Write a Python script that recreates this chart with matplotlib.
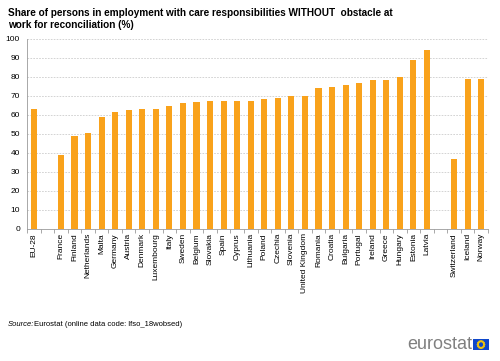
import numpy as np
import matplotlib.pyplot as plt
from matplotlib.patches import Rectangle, Circle

plt.rcParams['font.family'] = ['Liberation Sans', 'DejaVu Sans']

countries = ['EU-28', '',
             'France', 'Finland', 'Netherlands', 'Malta', 'Germany', 'Austria',
             'Denmark', 'Luxembourg', 'Italy', 'Sweden', 'Belgium', 'Slovakia',
             'Spain', 'Cyprus', 'Lithuania', 'Poland', 'Czechia', 'Slovenia',
             'United Kingdom', 'Romania', 'Croatia', 'Bulgaria', 'Portugal',
             'Ireland', 'Greece', 'Hungary', 'Estonia', 'Latvia', '',
             'Switzerland', 'Iceland', 'Norway']
values = [63.3, np.nan,
          38.8, 49.1, 50.4, 58.9, 61.6, 62.4,
          63.0, 63.3, 64.6, 66.1, 66.8, 67.2,
          67.5, 67.5, 67.5, 68.2, 68.8, 70.0,
          70.0, 74.4, 74.6, 76.0, 77.0,
          78.2, 78.2, 79.8, 88.8, 94.4, np.nan,
          36.7, 78.8, 78.8]

orange = '#F9A21B'
grey = '#9a9a9a'

fig = plt.figure(figsize=(5, 3.61), dpi=100)
ax = fig.add_axes([0.054, 0.366, 0.922, 0.526])

x = np.arange(len(countries))
ax.bar(x, values, width=0.45, color=orange, zorder=3)

ax.set_xlim(-0.5, len(countries) - 0.5)
ax.set_ylim(0, 100)
ax.set_yticks(np.arange(0, 101, 10))
ax.tick_params(axis='y', length=0, labelsize=6, pad=5)
ax.yaxis.grid(True, linestyle=(0, (2, 1.5)), color='#cccccc', linewidth=0.6)
ax.set_axisbelow(True)

ax.set_xticks(x)
ax.set_xticklabels(countries, rotation=90, fontsize=6)
ax.tick_params(axis='x', which='major', length=0, pad=3)
ax.set_xticks(np.arange(-0.5, len(countries), 1), minor=True)
ax.tick_params(axis='x', which='minor', length=3, color=grey, width=0.6)

for s in ['top', 'right']:
    ax.spines[s].set_visible(False)
ax.spines['left'].set_color(grey)
ax.spines['bottom'].set_color(grey)
ax.spines['left'].set_linewidth(0.6)
ax.spines['bottom'].set_linewidth(0.6)

fig.text(0.016, 0.978, 'Share of persons in employment with care responsibilities WITHOUT  obstacle at\nwork for reconciliation (%)',
         fontsize=7.2, fontweight='bold', va='top', ha='left', linespacing=1.3)

fig.text(0.016, 0.102, 'Source:', fontsize=5.5, style='italic', va='center')
fig.text(0.068, 0.102, 'Eurostat (online data code: lfso_18wobsed)', fontsize=5.5, va='center')

# eurostat logo
fig.text(0.944, 0.045, 'eurostat', fontsize=13, color='#808080', ha='right', va='center')
lax = fig.add_axes([0.946, 0.030, 0.032, 0.031])
lax.set_xlim(0, 1.5)
lax.set_ylim(0, 1)
lax.add_patch(Rectangle((0, 0), 1.5, 1, color='#0E47CB'))
for a in np.linspace(0, 2 * np.pi, 12, endpoint=False):
    lax.add_patch(Circle((0.75 + 0.3 * np.cos(a), 0.5 + 0.3 * np.sin(a)), 0.04, color='#FFCC00'))
lax.axis('off')

fig.savefig('out.png', dpi=100)
